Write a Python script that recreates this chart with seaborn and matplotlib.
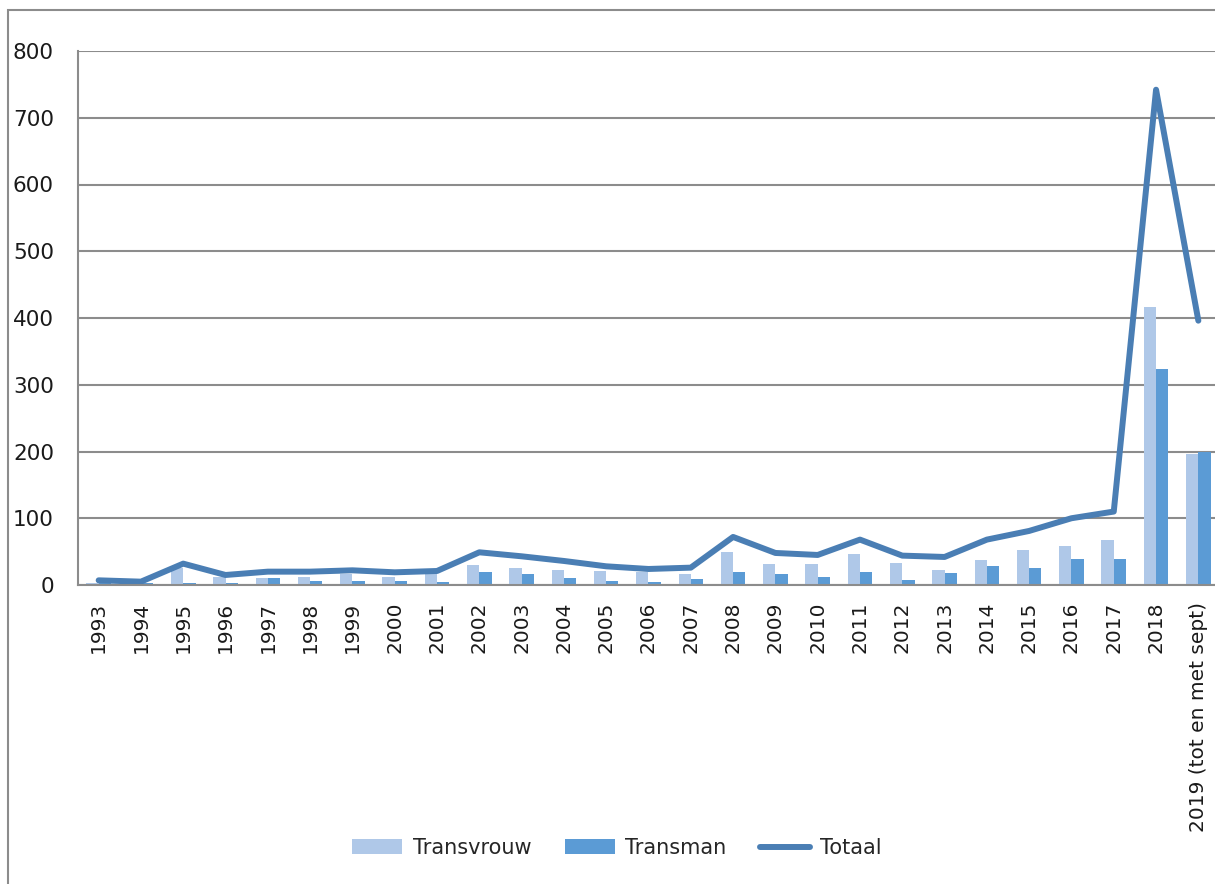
import numpy as np
import pandas as pd
import matplotlib
matplotlib.use("Agg")
import matplotlib.pyplot as plt
from matplotlib.patches import Rectangle
from matplotlib.ticker import FixedLocator, MultipleLocator
import seaborn as sns

years = ['1993', '1994', '1995', '1996', '1997', '1998', '1999', '2000', '2001',
         '2002', '2003', '2004', '2005', '2006', '2007', '2008', '2009', '2010',
         '2011', '2012', '2013', '2014', '2015', '2016', '2017', '2018',
         '2019 (tot en met sept)']
transvrouw = [3, 2, 25, 12, 10, 12, 16, 12, 17, 30, 25, 23, 21, 20, 17, 49, 31, 31,
              47, 33, 22, 37, 53, 58, 68, 417, 197]
transman = [4, 3, 3, 3, 10, 6, 6, 6, 4, 19, 17, 11, 6, 4, 9, 20, 16, 12,
            20, 8, 18, 29, 26, 39, 39, 323, 199]
totaal = [7, 5, 32, 15, 20, 20, 22, 19, 21, 49, 43, 36, 28, 24, 26, 72, 48, 45,
          68, 44, 42, 68, 81, 100, 110, 742, 396]
series_names = ['Transvrouw', 'Transman', 'Totaal']

c_vrouw = '#AFC8E8'
c_man = '#5B9BD5'
c_tot = '#4A7EB4'
grey = '#8C8C8C'

sns.set_style('white')
plt.rcParams['font.family'] = ['DejaVu Sans']

df = pd.DataFrame({
    'jaar': years * 2,
    'waarde': transvrouw + transman,
    'serie': [series_names[0]] * len(years) + [series_names[1]] * len(years),
})

W, H = 1215, 884
fig = plt.figure(figsize=(W / 100, H / 100), dpi=100)
ax = fig.add_axes([77.5 / W, (H - 585) / H, 1142 / W, 534 / H])

sns.barplot(data=df, x='jaar', y='waarde', hue='serie', order=years,
            palette=[c_vrouw, c_man], width=0.58, ax=ax, saturation=1,
            edgecolor='none', linewidth=0, legend=False)
pos = np.arange(len(years))
sns.lineplot(x=pos, y=totaal, color=c_tot, linewidth=4.3, ax=ax,
             solid_joinstyle='round', solid_capstyle='round', zorder=5)

ax.set_xlim(-0.5, len(years) - 0.5)
ax.set_ylim(0, 800)
ax.yaxis.set_major_locator(MultipleLocator(100))
ax.grid(axis='y', color=grey, linewidth=1.5)
ax.set_axisbelow(True)
for s in ['top', 'right']:
    ax.spines[s].set_visible(False)
for s in ['left', 'bottom']:
    ax.spines[s].set_color(grey)
    ax.spines[s].set_linewidth(1.5)
    ax.spines[s].set_zorder(6)

ax.set_xticks(pos)
ax.set_xticklabels(years, rotation=90, fontsize=14.5, color='#1a1a1a')
ax.xaxis.set_minor_locator(FixedLocator(np.arange(-0.5, len(years), 1.0)))
ax.tick_params(axis='x', which='major', length=0, pad=12)
ax.tick_params(axis='x', which='minor', length=6.5, width=1.5, color=grey, direction='out')
ax.tick_params(axis='y', length=6, width=1.5, color=grey, direction='out',
               labelsize=15.5, pad=11, labelcolor='#1a1a1a')
ax.set_xlabel('')
ax.set_ylabel('')

handles = [Rectangle((0, 0), 1, 1, facecolor=c_vrouw, edgecolor='none'),
           Rectangle((0, 0), 1, 1, facecolor=c_man, edgecolor='none'),
           plt.Line2D([0], [0], color=c_tot, linewidth=4.3, solid_capstyle='round')]
fig.legend(handles, series_names, loc='center', bbox_to_anchor=(617 / W, (H - 848) / H),
           ncol=3, frameon=False, fontsize=15, handlelength=2.4, handleheight=0.7,
           handletextpad=0.5, columnspacing=1.6)

fig.add_artist(Rectangle((8 / W, -0.1), 2, (H - 10) / H + 0.1,
                         transform=fig.transFigure, facecolor='none',
                         edgecolor=grey, linewidth=1.5))

fig.savefig('out.png', dpi=100)
